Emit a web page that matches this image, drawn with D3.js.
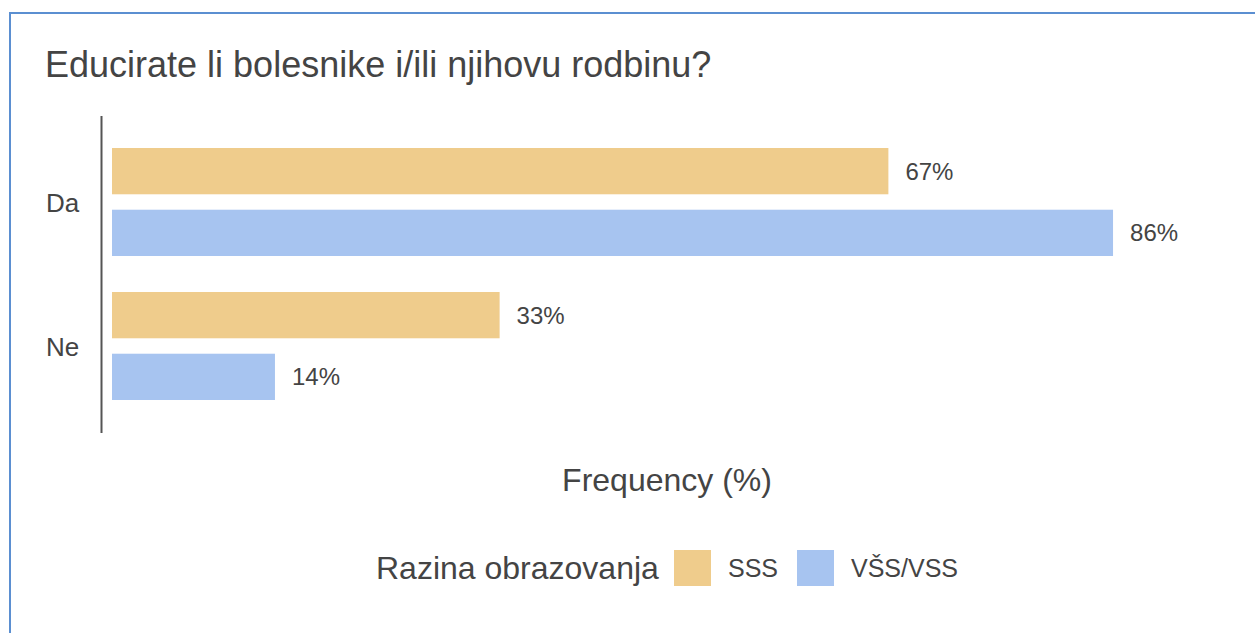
<!DOCTYPE html>
<html>
<head>
<meta charset="utf-8">
<script src="https://cdn.jsdelivr.net/npm/d3@7"></script>
<style>
  body { margin: 0; background: #fff; }
  text { font-family: Arial, "Liberation Sans", sans-serif; fill: #444; }
</style>
</head>
<body>
<svg id="chart" width="1255" height="633"></svg>
<script>
// data
const categories = ["Da", "Ne"];
const seriesNames = ["SSS", "VŠS/VSS"];
const sss = [66.7, 33.3];
const vss = [86, 14];
const colors = ["#efcc8c", "#a7c4f0"];

const svg = d3.select("#chart");

// frame
svg.append("path")
  .attr("d", "M10,1300 L10,13 L1300,13")
  .attr("fill", "none")
  .attr("stroke", "#5b8fd1")
  .attr("stroke-width", 2);

svg.append("text")
  .attr("x", 45).attr("y", 77)
  .attr("font-size", 36)
  .text("Educirate li bolesnike i/ili njihovu rodbinu?");

const x = d3.scaleLinear().domain([0, 100]).range([112, 112 + 1164]);
const y0 = d3.scaleBand().domain(categories).range([131, 419]);
const y1 = d3.scaleBand().domain(seriesNames).range([17, 17 + 108]).paddingInner(0.25);

const rows = [];
categories.forEach((c, i) => {
  rows.push({ cat: c, s: seriesNames[0], v: sss[i] });
  rows.push({ cat: c, s: seriesNames[1], v: vss[i] });
});

const g = svg.append("g");
g.selectAll("rect")
  .data(rows)
  .join("rect")
  .attr("x", x(0))
  .attr("y", d => y0(d.cat) + y1(d.s))
  .attr("width", d => x(d.v) - x(0))
  .attr("height", y1.bandwidth())
  .attr("fill", d => colors[seriesNames.indexOf(d.s)]);

g.selectAll("text.val")
  .data(rows)
  .join("text")
  .attr("class", "val")
  .attr("x", d => x(d.v) + 17)
  .attr("y", d => y0(d.cat) + y1(d.s) + y1.bandwidth() / 2)
  .attr("dy", "0.35em")
  .attr("font-size", 24)
  .attr("fill", "#333")
  .text(d => Math.round(d.v) + "%");

// y axis line
svg.append("line")
  .attr("x1", 101.5).attr("x2", 101.5)
  .attr("y1", 116).attr("y2", 433)
  .attr("stroke", "#555").attr("stroke-width", 2);

svg.selectAll("text.cat")
  .data(categories)
  .join("text")
  .attr("class", "cat")
  .attr("x", 46)
  .attr("y", d => y0(d) + y0.bandwidth() / 2)
  .attr("dy", "0.35em")
  .attr("font-size", 26)
  .text(d => d);

svg.append("text")
  .attr("x", 667).attr("y", 480)
  .attr("dy", "0.35em")
  .attr("text-anchor", "middle")
  .attr("font-size", 32)
  .text("Frequency (%)");

// legend
const leg = svg.append("g");
leg.append("text")
  .attr("x", 376).attr("y", 568)
  .attr("dy", "0.35em")
  .attr("font-size", 32)
  .text("Razina obrazovanja");
const legX = [674, 797];
seriesNames.forEach((s, i) => {
  leg.append("rect")
    .attr("x", legX[i]).attr("y", 550)
    .attr("width", 37).attr("height", 36)
    .attr("fill", colors[i]);
  leg.append("text")
    .attr("x", legX[i] + 54).attr("y", 568)
    .attr("dy", "0.35em")
    .attr("font-size", 25)
    .text(s);
});
</script>
</body>
</html>
